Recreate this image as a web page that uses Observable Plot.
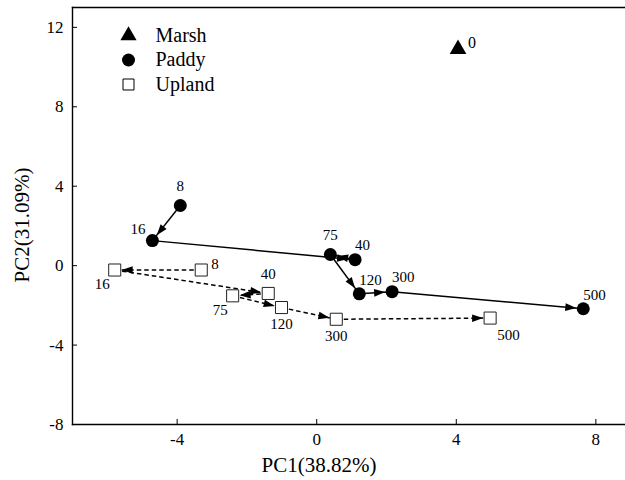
<!DOCTYPE html>
<html><head><meta charset="utf-8">
<script src="https://cdn.jsdelivr.net/npm/d3@7"></script>
<script src="https://cdn.jsdelivr.net/npm/@observablehq/plot@0.6"></script>
<style>html,body{margin:0;padding:0;background:#fff;overflow:hidden}svg{display:block}</style>
</head><body><div id="chart"></div>
<script>
// ---- data ----
const seriesNames = ["Marsh", "Paddy", "Upland"];
const marshLabels = ["0"];
const marshX = [4.05];
const marshY = [10.9];
const paddyLabels = ["8", "16", "40", "75", "120", "300", "500"];
const paddyX = [-3.91, -4.71, 1.10, 0.39, 1.22, 2.16, 7.64];
const paddyY = [3.03, 1.26, 0.30, 0.56, -1.42, -1.31, -2.17];
const uplandLabels = ["8", "16", "40", "75", "120", "300", "500"];
const uplandX = [-3.31, -5.79, -1.39, -2.41, -1.01, 0.56, 4.97];
const uplandY = [-0.22, -0.22, -1.40, -1.52, -2.11, -2.70, -2.64];
const xTicks = [-4, 0, 4, 8];
const yTicks = [-8, -4, 0, 4, 8, 12];
const xTitle = "PC1(38.82%)";
const yTitle = "PC2(31.09%)";
// label placement (compass direction) per point
const marshPlace = ["E"];
const paddyPlace = ["N", "NW", "NE", "N", "NE", "NE", "NE"];
const uplandPlace = ["E", "SW", "N", "SW", "S", "S", "SE"];

// ---- styling ----
const placeStyle = {
  N: {textAnchor: "middle", dx: 0, dy: -19},
  NE: {textAnchor: "start", dx: 0, dy: -14},
  NW: {textAnchor: "end", dx: -7, dy: -11},
  E: {textAnchor: "start", dx: 10, dy: -6},
  SW: {textAnchor: "end", dx: -5, dy: 14},
  S: {textAnchor: "middle", dx: 0, dy: 17},
  SE: {textAnchor: "start", dx: 7, dy: 17}
};
const FONT = "'Liberation Serif','Times New Roman',serif";

function rows(xs, ys, labels, place) {
  return xs.map((x, i) => ({x, y: ys[i], label: labels[i], place: place[i]}));
}
const marsh = rows(marshX, marshY, marshLabels, marshPlace);
const paddy = rows(paddyX, paddyY, paddyLabels, paddyPlace);
const upland = rows(uplandX, uplandY, uplandLabels, uplandPlace);

function segments(data) {
  return data.slice(0, -1).map((d, i) => ({x1: d.x, y1: d.y, x2: data[i + 1].x, y2: data[i + 1].y}));
}

function filledArrow(color) {
  const m = d3.create("svg:marker")
    .attr("viewBox", "-24 -6 30 12")
    .attr("markerWidth", 30)
    .attr("markerHeight", 12)
    .attr("markerUnits", "userSpaceOnUse")
    .attr("orient", "auto")
    .attr("refX", 0)
    .attr("refY", 0);
  m.append("path")
    .attr("d", "M-7,0L-18,-3.8L-18,3.8Z")
    .attr("fill", color)
    .attr("stroke", "none")
    .attr("stroke-dasharray", "none");
  return m.node();
}

function labelMarks(data, size) {
  return Object.keys(placeStyle).map(p =>
    Plot.text(data.filter(d => d.place === p), {
      x: "x", y: "y", text: "label", fontSize: size, fill: "#000", ...placeStyle[p]
    })
  );
}

function build(marker) {
  const legendSymbols = ["triangle", "circle", "square"];
  const legendFill = ["#000", "#000", "#fff"];
  const legendR = [6, 6.5, 6.2];
  const legend = seriesNames.flatMap((s, i) => [
    Plot.dot([s], {frameAnchor: "top-left", dx: 56, dy: 28 + i * 24.5, symbol: legendSymbols[i],
      r: legendR[i], fill: legendFill[i], stroke: "#000", strokeWidth: i === 2 ? 1 : 0}),
    Plot.text([s], {frameAnchor: "top-left", dx: 83, dy: 28 + i * 24.5, text: d => d,
      textAnchor: "start", lineAnchor: "middle", fontSize: 20, fill: "#000"})
  ]);
  return Plot.plot({
    width: 625, height: 480,
    marginLeft: 72, marginRight: 0, marginTop: 7, marginBottom: 56,
    style: {fontFamily: FONT, fontSize: "17px", color: "#000", background: "#fff", overflow: "visible"},
    x: {domain: [-7, 8.85]},
    y: {domain: [-8, 13]},
    marks: [
      Plot.frame({anchor: "top", stroke: "#000", strokeWidth: 1.4}),
      Plot.frame({anchor: "left", stroke: "#000", strokeWidth: 1.4}),
      Plot.frame({anchor: "bottom", stroke: "#000", strokeWidth: 1.4}),
      Plot.axisX(xTicks, {tickSize: -5, tickPadding: 13, tickFormat: d => String(d), label: null, fontSize: 17}),
      Plot.axisY(yTicks, {tickSize: -5, tickFormat: d => String(d), label: null, fontSize: 17}),
      Plot.text([xTitle], {frameAnchor: "bottom", textAnchor: "middle", lineAnchor: "middle",
        dx: -30, dy: 41, fontSize: 21, fill: "#000"}),
      Plot.text([yTitle], {frameAnchor: "left", textAnchor: "middle", lineAnchor: "middle",
        rotate: -90, dx: -50, dy: 9, fontSize: 21, fill: "#000"}),
      Plot.link(segments(upland), {x1: "x1", y1: "y1", x2: "x2", y2: "y2", stroke: "#000",
        strokeWidth: 1.5, strokeDasharray: "4.5,3", markerEnd: marker}),
      Plot.link(segments(paddy), {x1: "x1", y1: "y1", x2: "x2", y2: "y2", stroke: "#000",
        strokeWidth: 1.5, markerEnd: marker}),
      Plot.dot(upland, {x: "x", y: "y", symbol: "square", r: 6.8, fill: "#fff", stroke: "#222", strokeWidth: 1}),
      Plot.dot(paddy, {x: "x", y: "y", symbol: "circle", r: 6.5, fill: "#000", stroke: "#000", strokeWidth: 0}),
      Plot.dot(marsh, {x: "x", y: "y", symbol: "triangle", r: 6.2, fill: "#000", stroke: "#000", strokeWidth: 0}),
      ...labelMarks(marsh, 16),
      ...labelMarks(paddy, 15),
      ...labelMarks(upland, 15),
      ...legend
    ]
  });
}

let chart;
try { chart = build(filledArrow); } catch (e) { console.error(e); chart = build("arrow"); }
document.getElementById("chart").append(chart);
</script>
</body></html>
